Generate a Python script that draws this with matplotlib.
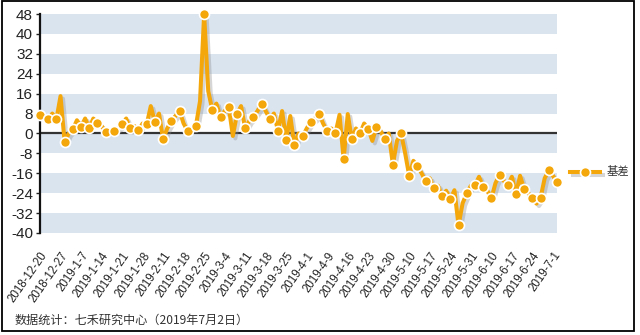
import matplotlib
matplotlib.use("Agg")
import matplotlib.pyplot as plt
import numpy as np
from matplotlib.lines import Line2D
from matplotlib.patches import Rectangle
from matplotlib.transforms import offset_copy

plt.rcParams['font.family'] = ['Liberation Sans', 'Noto Sans CJK SC', 'DejaVu Sans']

# ---- data ----
series_name = "基差"
values = [
    7.6, 6.5, 5.7, 8, 5.7, 15, -3.4, 0, 1.6, 5.3,
    2.7, 6, 2.3, 6, 4.3, 3, 0.7, 0.5, 1, 2,
    3.6, 6, 2, 3, 1.3, 4, 3.6, 11, 4.5, 8,
    -2.4, 2, 5.1, 7, 9.1, 4, 1.0, 2, 3.1, 13,
    48, 17, 9.4, 12, 6.5, 9, 10.7, -1, 7.8, 11,
    2, 5, 6.7, 9, 12, 9, 6, 8, 1.1, 9,
    -2.5, 7, -4.8, 0, -1.2, 2, 4.7, 6, 8, 4,
    1, 2, 0, 7.5, -10.3, 7.8, -2.4, 2, 0, 4,
    1.8, -3, 2.6, 1, -2.2, 0, -12.5, -3, 0, -8,
    -17.2, -11, -13.2, -16, -19.2, -18, -22.1, -21, -25.2, -23,
    -26.4, -22.8, -36.9, -28, -24.1, -21, -20.8, -17.4, -21.5, -23,
    -26.1, -20, -16.5, -19, -20.8, -17.4, -24.4, -17, -22.4, -24,
    -25.9, -28.2, -25.8, -18, -14.8, -17, -19.7,
]
tick_labels = [
    "2018-12-20", "2018-12-27", "2019-1-7", "2019-1-14", "2019-1-21", "2019-1-28",
    "2019-2-11", "2019-2-18", "2019-2-25", "2019-3-4", "2019-3-11", "2019-3-18",
    "2019-3-25", "2019-4-1", "2019-4-9", "2019-4-16", "2019-4-23", "2019-4-30",
    "2019-5-10", "2019-5-17", "2019-5-24", "2019-5-31", "2019-6-10", "2019-6-17",
    "2019-6-24", "2019-7-1",
]
label_interval = 5
marker_interval = 2
y_ticks = [-40, -32, -24, -16, -8, 0, 8, 16, 24, 32, 40, 48]
source_text = "数据统计：七禾研究中心（2019年7月2日）"

# ---- style ----
W, H = 640, 335
ORANGE = '#F4A70B'
BAND = '#DAE4EF'

fig = plt.figure(figsize=(W / 100, H / 100), dpi=100)
ax = fig.add_axes([40 / W, 1 - 233 / H, (557 - 40) / W, (233 - 14) / H])

x = np.arange(len(values))
y = np.array(values)

# bands
for lo in range(-40, 48, 16):
    ax.axhspan(lo, lo + 8, color=BAND, lw=0, zorder=0)
ax.axhline(0, color='#333333', lw=1.6, zorder=1)

# shadow
sh = offset_copy(ax.transData, fig=fig, x=2.5, y=-2.5, units='dots')
ax.plot(x, y, color='#8c8c8c', lw=2.9, alpha=0.35, transform=sh, zorder=2,
        solid_joinstyle='round')
ax.plot(x, y, color=ORANGE, lw=2.9, zorder=3, solid_joinstyle='round',
        marker='o', markevery=marker_interval, markersize=7.2, clip_on=False,
        markerfacecolor=ORANGE, markeredgecolor='white', markeredgewidth=1.2)

ax.set_xlim(0, len(values) - 1)
ax.set_ylim(-40, 48)
ax.set_yticks(y_ticks)
ax.set_yticklabels([str(t) for t in y_ticks], fontsize=11, color='#222222')
ax.tick_params(axis='y', length=3, width=1, color='#222222', pad=2)

xt = np.arange(0, len(values), label_interval)[:len(tick_labels)]
ax.set_xticks(xt)
ax.set_xticklabels(tick_labels, rotation=55, ha='right', va='top',
                   rotation_mode='anchor', fontsize=8.3, color='#222222')
ax.tick_params(axis='x', length=0, pad=12)

for s in ['top', 'right', 'bottom']:
    ax.spines[s].set_visible(False)
ax.spines['left'].set_color('#111111')
ax.spines['left'].set_linewidth(1.6)

# legend (drawn manually at the right)
def fx(px):
    return px / W
def fy(py):
    return 1 - py / H
leg_sh = Line2D([fx(572.5), fx(602.5)], [fy(174.5), fy(174.5)], transform=fig.transFigure,
                color='#8c8c8c', alpha=0.35, lw=2.9)
leg_line = Line2D([fx(570), fx(600)], [fy(172), fy(172)], transform=fig.transFigure,
                  color=ORANGE, lw=2.9)
leg_mark = Line2D([fx(585)], [fy(172)], transform=fig.transFigure, marker='o',
                  markersize=7.2, markerfacecolor=ORANGE, markeredgecolor='white',
                  markeredgewidth=1.2, lw=0)
fig.add_artist(leg_sh)
fig.add_artist(leg_line)
fig.add_artist(leg_mark)
fig.text(fx(607), fy(172), series_name, fontsize=8.2, color='#333333', va='center',
         ha='left', family=['Noto Sans CJK SC', 'DejaVu Sans'])

# source
fig.text(fx(15), fy(320), source_text, fontsize=8.7, color='#333333', va='center',
         ha='left', family=['Noto Sans CJK SC', 'DejaVu Sans'])

# outer border
fig.add_artist(Rectangle((fx(2), fy(331)), fx(632), (330) / H, transform=fig.transFigure,
                         fill=False, ec='black', lw=1.3))

fig.savefig('out.png', dpi=100)
